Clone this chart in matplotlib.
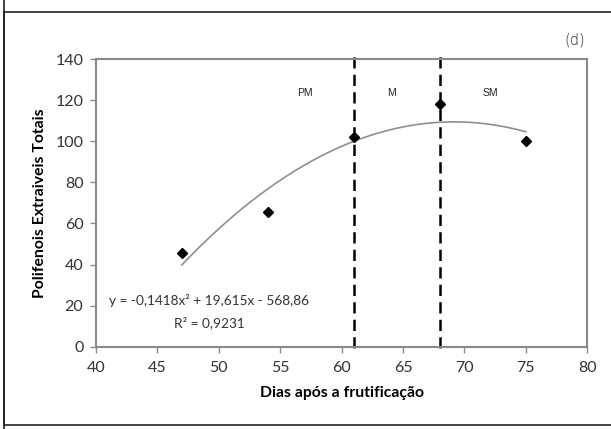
import numpy as np
import matplotlib.pyplot as plt
from matplotlib.patches import Rectangle

plt.rcParams["font.family"] = ["Lato", "DejaVu Sans"]

# Data
dias = [47, 54, 61, 68, 75]
polifenois = [45.5, 65.4, 102, 118.4, 100]

# Polynomial trendline, as printed on the chart
coef = [-0.1418, 19.615, -568.86]
trend_start, trend_end = 47, 75

# Stage boundaries and labels
limites = [61, 68]
fases = ["PM", "M", "SM"]
fases_x = [57, 64.1, 72.1]
fases_y = 123.5

grey = "#8a8a8a"

fig = plt.figure(figsize=(6.11, 4.29), dpi=100)
ax = fig.add_axes([0.157, 0.192, 0.804, 0.670])

# outer panel frames
fig.patches.append(Rectangle((0.0065, 4.5 / 429), 1.2, 1.2, transform=fig.transFigure,
                             fill=False, ec="#222222", lw=1.2, clip_on=False))
fig.patches.append(Rectangle((0.0065, -0.5), 1.2, 1 - 11.5 / 429 + 0.5,
                             transform=fig.transFigure, fill=False, ec="#222222",
                             lw=1.2, clip_on=False))

xs = np.linspace(trend_start, trend_end, 200)
ax.plot(xs, np.polyval(coef, xs), color="#8f8f8f", lw=1.2, zorder=2)
ax.plot(dias, polifenois, ls="none", marker="D", ms=5, color="black", zorder=3)

for lim in limites:
    ax.plot([lim, lim], [-0.5, 142], color="black", lw=1.8, ls=(0, (4.5, 2.5)),
            clip_on=False, zorder=2)

for nome, fx in zip(fases, fases_x):
    ax.text(fx, fases_y, nome, ha="center", va="center", fontsize=7.5,
            family=["Liberation Sans"], color="#222222")

ax.text(49.2, 22.7, "y = -0,1418x² + 19,615x - 568,86", ha="center", va="center",
        fontsize=9.8, color="#333333")
ax.text(49.2, 11.5, "R² = 0,9231", ha="center", va="center", fontsize=9.8, color="#333333")

ax.set_xlim(40, 80)
ax.set_ylim(0, 140)
ax.set_xticks(range(40, 81, 5))
ax.set_yticks(range(0, 141, 20))
ax.tick_params(direction="out", length=4, width=1, color=grey, labelsize=11.5,
               labelcolor="#333333")
ax.tick_params(axis="x", pad=6)
ax.tick_params(axis="y", pad=5)
for s in ax.spines.values():
    s.set_color(grey)
    s.set_linewidth(1.5)

ax.set_xlabel("Dias após a frutificação", fontsize=11.3, fontweight="bold", labelpad=8)
ax.set_ylabel("Polifenois Extraiveis Totais", fontsize=11.3, fontweight="bold", labelpad=6)

fig.text(575 / 611, 1 - 40 / 429, "(d)", ha="center", va="center", fontsize=10.5,
         family=["DejaVu Sans"], color="#222222", fontweight="light")

fig.savefig("out.png", dpi=100)
